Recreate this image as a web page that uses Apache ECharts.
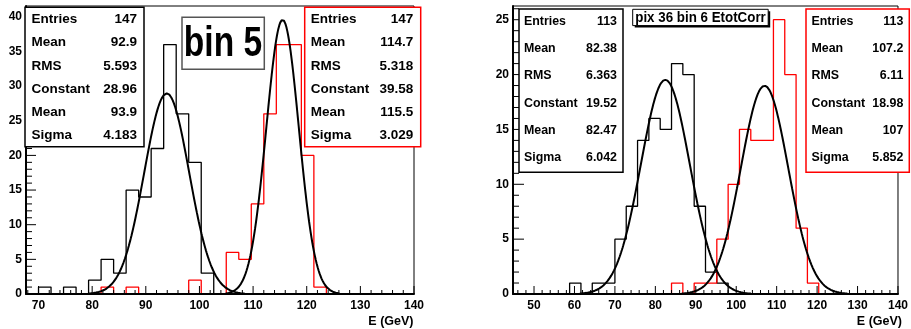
<!DOCTYPE html>
<html><head><meta charset="utf-8">
<script src="https://cdn.jsdelivr.net/npm/echarts@6/dist/echarts.min.js"></script>
<style>html,body{margin:0;padding:0;background:#fff}#c{width:911px;height:329px}</style>
</head><body><div id="c"></div>
<script>
// ---------- Left panel ("bin 5"), histogram range 0-140 in 60 bins ----------
const leftBinWidth = 140 / 60;
const leftAxisStartBin = 29;
const leftBlackStartBin = 30;   // first listed bin starts at 70
const leftBlackCounts = [1, 0, 1, 0, 2, 5, 3, 15, 14, 21, 36, 26, 19, 3];
const leftRedStartBin = 35;     // first listed bin starts at 81.67
const leftRedCounts = [1, 0, 1, 0, 0, 0, 0, 2, 0, 0, 6, 5, 13, 26, 36, 36, 20, 1];
const leftBlackFit = [28.96, 93.9, 4.183];   // constant, mean, sigma
const leftRedFit = [39.58, 115.5, 3.029];
const leftYMax = 41.56;
const leftXTicks = [70, 80, 90, 100, 110, 120, 130, 140];
const leftYTicks = [0, 5, 10, 15, 20, 25, 30, 35, 40];
const statsNames = ['Entries', 'Mean', 'RMS', 'Constant', 'Mean', 'Sigma'];
const leftBlackStatsValues = ['147', '92.9', '5.593', '28.96', '93.9', '4.183'];
const leftRedStatsValues = ['147', '114.7', '5.318', '39.58', '115.5', '3.029'];
const leftTitle = 'bin 5';

// ---------- Right panel ("pix 36 bin 6 EtotCorr"), range 0-140 in 50 bins ----------
const rightBinWidth = 140 / 50;
const rightAxisStartBin = 16;
const rightBlackStartBin = 21;  // 58.8
const rightBlackCounts = [1, 0, 1, 1, 5, 8, 14, 16, 15, 21, 20, 8, 2, 1];
const rightRedStartBin = 30;    // 84
const rightRedCounts = [1, 0, 1, 1, 5, 10, 15, 14, 14, 25, 20, 6, 1];
const rightBlackFit = [19.52, 82.47, 6.042];
const rightRedFit = [18.98, 107, 5.852];
const rightYMax = 26.25;
const rightXTicks = [50, 60, 70, 80, 90, 100, 110, 120, 130, 140];
const rightYTicks = [0, 5, 10, 15, 20, 25];
const rightBlackStatsValues = ['113', '82.38', '6.363', '19.52', '82.47', '6.042'];
const rightRedStatsValues = ['113', '107.2', '6.11', '18.98', '107', '5.852'];
const rightTitle = 'pix 36 bin 6 EtotCorr';
const xTitle = 'E (GeV)';

const FONT = '"Liberation Sans", Arial, Helvetica, sans-serif';
const RED = '#ff0000';

function histLine(startBin, width, counts) {
  const pts = [[startBin * width, 0]];
  counts.forEach((c, i) => {
    pts.push([(startBin + i) * width, c], [(startBin + i + 1) * width, c]);
  });
  pts.push([(startBin + counts.length) * width, 0]);
  return pts;
}
function fitCurve(p, nsig) {
  const [A, m, s] = p;
  const lo = m - nsig * s, hi = m + nsig * s, n = 240;
  const pts = [];
  for (let i = 0; i <= n; i++) {
    const x = lo + (hi - lo) * i / n;
    pts.push([x, A * Math.exp(-0.5 * ((x - m) / s) * ((x - m) / s))]);
  }
  return pts;
}
function range(a, b, st) { const r = []; for (let v = a; v <= b + 1e-9; v += st) r.push(+v.toFixed(6)); return r; }

function xAxis(grid, min, ticks) {
  return {
    gridIndex: grid, type: 'value', min: min, max: 140, z: 10,
    axisLine: { lineStyle: { color: '#000', width: 2 } },
    axisTick: { show: false },
    axisLabel: { customValues: ticks, fontSize: 12, fontWeight: 'bold', color: '#000', margin: 6, fontFamily: FONT },
    splitLine: { show: false }
  };
}
function yAxis(grid, max, ticks) {
  return {
    gridIndex: grid, type: 'value', min: 0, max: max, z: 10,
    axisLine: { show: true, lineStyle: { color: '#000', width: 2 } },
    axisTick: { show: false },
    axisLabel: { customValues: ticks, fontSize: 12, fontWeight: 'bold', color: '#000', margin: 4, fontFamily: FONT },
    splitLine: { show: false }
  };
}
function line(idx, data, color, w, z) {
  return { type: 'line', xAxisIndex: idx, yAxisIndex: idx, data: data, showSymbol: false, symbol: 'none',
    lineStyle: { color: color, width: w }, z: z, animation: false, silent: true };
}
// tick marks drawn inside the frame through the axes' own scales
function tickSeries(idx, xMin, xMajor, xMinor, yMajor, yMinor, xLen, yLen) {
  const data = [];
  xMajor.forEach(v => data.push([v, 0, 0, xLen]));
  xMinor.forEach(v => data.push([v, 0, 0, xLen / 2]));
  yMajor.forEach(v => data.push([xMin, v, 1, yLen]));
  yMinor.forEach(v => data.push([xMin, v, 1, Math.round(yLen * 0.55)]));
  return {
    type: 'custom', xAxisIndex: idx, yAxisIndex: idx, data: data, z: 11, silent: true, clip: false,
    renderItem: function (params, api) {
      const p = api.coord([api.value(0), api.value(1)]);
      const len = api.value(3);
      const horiz = api.value(2) === 1;
      return { type: 'line', shape: horiz ? { x1: p[0], y1: p[1], x2: p[0] + len, y2: p[1] } : { x1: p[0], y1: p[1], x2: p[0], y2: p[1] - len },
        style: { stroke: '#000', lineWidth: 1 } };
    }
  };
}

function statsBox(x, y, w, h, color, values, rowY0, rowStep, fontSize, padL, padR) {
  const els = [{ type: 'rect', z: 100, shape: { x: x, y: y, width: w, height: h },
    style: { fill: '#fff', stroke: color, lineWidth: 1.5 } }];
  statsNames.forEach((nm, i) => {
    const ty = rowY0 + rowStep * i;
    els.push({ type: 'text', z: 101, x: x + padL, y: ty,
      style: { text: nm, fill: '#000', font: 'bold ' + fontSize + 'px ' + FONT, textAlign: 'left', textVerticalAlign: 'middle' } });
    els.push({ type: 'text', z: 101, x: x + w - padR, y: ty,
      style: { text: values[i], fill: '#000', font: 'bold ' + fontSize + 'px ' + FONT, textAlign: 'right', textVerticalAlign: 'middle' } });
  });
  return els;
}

const chart = echarts.init(document.getElementById('c'), null, { renderer: 'canvas' });
const graphics = []
  .concat(statsBox(25, 7.3, 119, 139.4, '#000', leftBlackStatsValues, 19.5, 23.2, 13.5, 6.5, 7))
  .concat(statsBox(304.7, 7.3, 116, 139.4, RED, leftRedStatsValues, 19.5, 23.2, 13.5, 6, 7.5))
  .concat(statsBox(519, 9, 104, 163.3, '#000', rightBlackStatsValues, 21.5, 27.2, 12.4, 5, 6))
  .concat(statsBox(806, 9, 103.3, 163.3, RED, rightRedStatsValues, 21.5, 27.2, 12.4, 5.5, 6))
  .concat([
    { type: 'rect', z: 100, shape: { x: 182, y: 17.3, width: 82.3, height: 52 }, style: { fill: '#fff', stroke: '#555', lineWidth: 1.5 } },
    { type: 'text', z: 101, x: 223, y: 44.5, scaleX: 0.78,
      style: { text: leftTitle, fill: '#000', font: 'bold 43px ' + FONT, textAlign: 'center', textVerticalAlign: 'middle' } },
    { type: 'rect', z: 99, shape: { x: 634.7, y: 11.3, width: 135.5, height: 16.3 }, style: { fill: '#000' } },
    { type: 'rect', z: 100, shape: { x: 632.7, y: 9.3, width: 135.5, height: 16.3 }, style: { fill: '#fff', stroke: '#000', lineWidth: 1 } },
    { type: 'text', z: 101, x: 700.5, y: 17.8, scaleX: 0.89,
      style: { text: rightTitle, fill: '#000', font: 'bold 15px ' + FONT, textAlign: 'center', textVerticalAlign: 'middle' } },
    { type: 'text', z: 101, x: 413.5, y: 322,
      style: { text: xTitle, fill: '#000', font: 'bold 12.5px ' + FONT, textAlign: 'right', textVerticalAlign: 'middle' } },
    { type: 'text', z: 101, x: 902, y: 322,
      style: { text: xTitle, fill: '#000', font: 'bold 12.5px ' + FONT, textAlign: 'right', textVerticalAlign: 'middle' } }
  ]);

const leftMin = leftAxisStartBin * leftBinWidth;
const rightMin = rightAxisStartBin * rightBinWidth;

chart.setOption({
  animation: false,
  backgroundColor: '#fff',
  grid: [
    { left: 26, top: 6, width: 388, height: 288, show: true, borderColor: '#000', borderWidth: 1, containLabel: false },
    { left: 513, top: 6, width: 389, height: 288, show: true, borderColor: '#000', borderWidth: 1, containLabel: false }
  ],
  xAxis: [xAxis(0, leftMin, leftXTicks), xAxis(1, rightMin, rightXTicks)],
  yAxis: [yAxis(0, leftYMax, leftYTicks), yAxis(1, rightYMax, rightYTicks)],
  series: [
    line(0, histLine(leftBlackStartBin, leftBinWidth, leftBlackCounts), '#000', 1.3, 3),
    line(0, histLine(leftRedStartBin, leftBinWidth, leftRedCounts), RED, 1.3, 3),
    line(0, fitCurve(leftBlackFit, 3.5), '#000', 2, 4),
    line(0, fitCurve(leftRedFit, 3.5), '#000', 2, 4),
    line(1, histLine(rightBlackStartBin, rightBinWidth, rightBlackCounts), '#000', 1.3, 3),
    line(1, histLine(rightRedStartBin, rightBinWidth, rightRedCounts), RED, 1.3, 3),
    line(1, fitCurve(rightBlackFit, 3.5), '#000', 2, 4),
    line(1, fitCurve(rightRedFit, 3.5), '#000', 2, 4),
    tickSeries(0, leftMin, leftXTicks, range(68, 138, 2).filter(v => v % 10 !== 0),
      leftYTicks, range(0, 41, 1).filter(v => v % 5 !== 0), 8, 10),
    tickSeries(1, rightMin, rightXTicks, range(46, 138, 2).filter(v => v % 10 !== 0),
      rightYTicks, range(0, 26, 1).filter(v => v % 5 !== 0), 8, 11)
  ],
  graphic: graphics
});
</script></body></html>
